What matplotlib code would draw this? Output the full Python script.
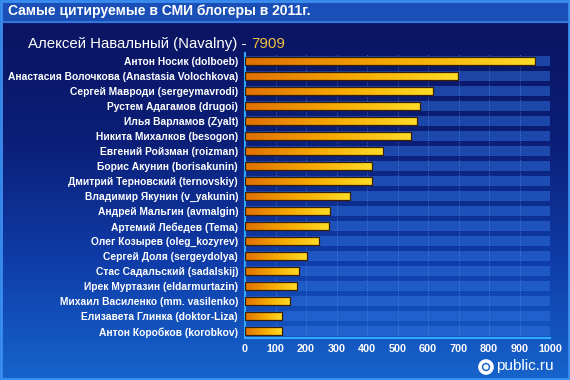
import numpy as np
import matplotlib
matplotlib.use("Agg")
import matplotlib.pyplot as plt
from matplotlib.colors import LinearSegmentedColormap
from matplotlib.patches import Rectangle, Circle

plt.rcParams['font.family'] = ['Liberation Sans', 'DejaVu Sans']

# Data
bloggers = [
    "Антон Носик (dolboeb)",
    "Анастасия Волочкова (Anastasia Volochkova)",
    "Сергей Мавроди (sergeymavrodi)",
    "Рустем Адагамов (drugoi)",
    "Илья Варламов (Zyalt)",
    "Никита Михалков (besogon)",
    "Евгений Ройзман (roizman)",
    "Борис Акунин (borisakunin)",
    "Дмитрий Терновский (ternovskiy)",
    "Владимир Якунин (v_yakunin)",
    "Андрей Мальгин (avmalgin)",
    "Артемий Лебедев (Tema)",
    "Олег Козырев (oleg_kozyrev)",
    "Сергей Доля (sergeydolya)",
    "Стас Садальский (sadalskij)",
    "Ирек Муртазин (eldarmurtazin)",
    "Михаил Василенко (mm. vasilenko)",
    "Елизавета Глинка (doktor-Liza)",
    "Антон Коробков (korobkov)",
]
citations = [952, 697, 616, 573, 563, 543, 452, 417, 416, 343,
             280, 275, 244, 202, 178, 172, 146, 121, 121]
x_ticks = [0, 100, 200, 300, 400, 500, 600, 700, 800, 900, 1000]

title = "Самые цитируемые в СМИ блогеры в 2011г."
leader_name = "Алексей Навальный (Navalny) - "
leader_value = "7909"

fig = plt.figure(figsize=(5.7, 3.8), dpi=100)

# Background: gradient panel
bg = fig.add_axes([0, 0, 1, 1])
bg.axis('off')
bg_cmap = LinearSegmentedColormap.from_list('bg', ['#0a1462', '#0b1f78', '#0f3ca8', '#1664cc'])
grad = np.linspace(0, 1, 256).reshape(-1, 1)
bg.imshow(grad, cmap=bg_cmap, extent=[0, 570, 380, 22], aspect='auto')
bg.add_patch(Rectangle((0, 0), 570, 22, color='#1a4fb8'))
bg.plot([0, 570], [22, 22], color='#3a7ee0', lw=1.2)
bg.add_patch(Rectangle((1, 1), 568, 378, fill=False, ec='#3a8ef0', lw=2))
bg.set_xlim(0, 570)
bg.set_ylim(380, 0)

fig.text(0.014, 0.972, title, color='white', fontsize=10, fontweight='bold',
         va='center', ha='left')
t1 = fig.text(0.05, 0.885, leader_name, color='white', fontsize=10.8,
              va='center', ha='left')
fig.canvas.draw()
bb = t1.get_window_extent()
fig.text(bb.x1 / fig.bbox.width, 0.885, leader_value, color='#f0c040',
         fontsize=10.8, va='center', ha='left')

# Chart
ax = fig.add_axes([245 / 570, 1 - 338 / 380, 305 / 570, 285 / 380])
ax.set_facecolor('none')
n = len(bloggers)
y = np.arange(n)

# row stripes
for i in range(n):
    ax.axhspan(i - 0.32, i + 0.32, color='#2f72e0', alpha=0.5, lw=0)
for xv in x_ticks[1:]:
    ax.axvline(xv, color='#6aa6f5', lw=0.6, ls=(0, (1, 2)), alpha=0.7)

bar_cmap = LinearSegmentedColormap.from_list('bar', ['#e07000', '#f5a800', '#ffdc28'])
bars = ax.barh(y, citations, height=0.52, color='none', edgecolor='#3a2000', lw=0.9, zorder=3)
for b in bars:
    x0, y0 = b.get_x(), b.get_y()
    w, h = b.get_width(), b.get_height()
    im = ax.imshow(np.linspace(0, 1, 100).reshape(1, -1), cmap=bar_cmap,
                   extent=[x0, x0 + w, y0, y0 + h], aspect='auto', zorder=2)
    im.set_clip_path(b)

ax.set_xlim(0, 1000)
ax.set_ylim(18.45, -0.55)
ax.set_xticks(x_ticks)
ax.set_xticklabels([str(v) for v in x_ticks], color='white', fontsize=7.8, fontweight='bold')
ax.set_yticks(y)
ax.set_yticklabels(bloggers, color='white', fontsize=7.4, fontweight='bold')
ax.tick_params(axis='y', length=0, pad=5)
ax.tick_params(axis='x', length=0, pad=4)
for s in ['top', 'right']:
    ax.spines[s].set_visible(False)
ax.spines['left'].set_color('#30a8ff')
ax.spines['left'].set_linewidth(1.5)
ax.spines['bottom'].set_color('#30a8ff')
ax.spines['bottom'].set_linewidth(1.5)

# logo
fig.text(496 / 570, 1 - 366 / 380, "public.ru", color='white', fontsize=11,
         ha='left', va='center')
bg.add_patch(Circle((486, 367), 6, fill=False, ec='white', lw=2.6))
bg.add_patch(Circle((486, 367), 2, color='white'))

fig.savefig('out.png', dpi=100)
